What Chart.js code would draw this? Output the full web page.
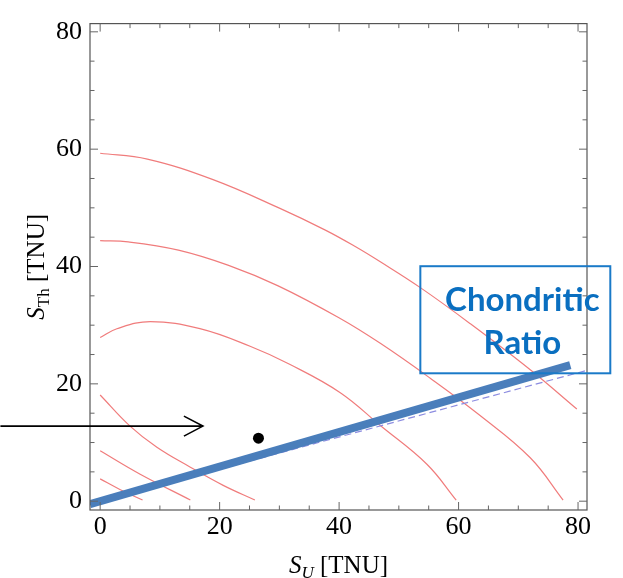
<!DOCTYPE html>
<html>
<head>
<meta charset="utf-8">
<script src="https://cdn.jsdelivr.net/npm/chart.js@4/dist/chart.umd.min.js"></script>
<style>
  html, body { margin: 0; padding: 0; background: #fff; }
  #wrap { width: 623px; height: 578px; }
</style>
</head>
<body>
<div id="wrap"><canvas id="chart"></canvas></div>
<script>
// axis ranges and tick labels
const uRange = [-1.7, 81.5];
const thRange = [-1.5, 81.4];
const uTicks = [0, 20, 40, 60, 80];
const thTicks = [0, 20, 40, 60, 80];

// iso-signal contours (S_U, S_Th)
const curve1U = [0, 7.9, 18.9, 30.1, 37.7, 42.7, 46.9, 53.6, 61.9, 72, 79.8];
const curve1Th = [59.3, 58.3, 54.8, 49.9, 46.2, 43.4, 40.8, 36.4, 30.3, 22.4, 15.7];
const curve2U = [0, 4.7, 13.1, 21.5, 29.8, 39.9, 46.9, 55.2, 63.6, 72, 77.5];
const curve2Th = [44.4, 44.2, 42.8, 40.2, 36.7, 31.3, 26.9, 21, 14.6, 7.4, 0.2];
const curve3U = [0, 2.8, 8.4, 16.7, 25.1, 31.8, 40.2, 46.9, 54.7, 59.6];
const curve3Th = [27.9, 29.4, 30.6, 29.4, 26.4, 23.3, 18.5, 12.9, 6.3, 0.2];
const curve4U = [0, 5, 9.5, 15.1, 20.6, 25.9];
const curve4Th = [18.1, 12.8, 9.2, 5.8, 2.7, 0.2];
const curve5U = [0, 6.7, 15.1];
const curve5Th = [8.6, 4.6, 0.2];
const curve6U = [0, 3.3, 7.1];
const curve6Th = [3.8, 2.0, 0.2];

// chondritic ratio lines
const chondriticU = [-1.7, 78.7];
const chondriticTh = [-0.5, 23.2];
const dashedU = [0, 81.5];
const dashedTh = [0, 22.3];

// measured point
const pointU = [26.5];
const pointTh = [10.75];

// arrow and label box (data units)
const arrowU = [-16.7, 17.2];
const arrowTh = [12.8, 12.8];
const boxU = [53.6, 85.4];
const boxTh = [40.05, 21.8];
const boxLines = ['Chondritic', 'Ratio'];

const toPoints = (us, ths) => us.map((u, i) => ({ x: u, y: ths[i] }));

const contour = (us, ths) => ({
  data: toPoints(us, ths),
  showLine: true,
  borderColor: '#f07c7c',
  borderWidth: 1.2,
  pointRadius: 0,
  tension: 0.4,
  clip: 0,
  order: 5,
});

const serif = '"Liberation Serif", "DejaVu Serif", serif';

// draws a list of text runs centred on (x, y), optionally rotated
function drawRich(ctx, parts, x, y, angle) {
  ctx.save();
  ctx.translate(x, y);
  ctx.rotate(angle || 0);
  ctx.textBaseline = 'alphabetic';
  ctx.textAlign = 'left';
  let total = 0;
  parts.forEach((p) => {
    ctx.font = p.font;
    total += ctx.measureText(p.text).width;
  });
  let cx = -total / 2;
  parts.forEach((p) => {
    ctx.font = p.font;
    ctx.fillStyle = '#000';
    ctx.fillText(p.text, cx, p.dy || 0);
    cx += ctx.measureText(p.text).width;
  });
  ctx.restore();
}

const framePlugin = {
  id: 'frame',
  afterDatasetsDraw(chart) {
    const { ctx, chartArea: { left, right, top, bottom }, scales: { x, y } } = chart;
    ctx.save();

    // frame
    ctx.strokeStyle = '#555';
    ctx.lineWidth = 1.2;
    ctx.strokeRect(left, top, right - left, bottom - top);

    // inward ticks on all sides
    ctx.strokeStyle = '#666';
    ctx.lineWidth = 1;
    for (let v = 0; v <= 80; v += 5) {
      const len = v % 20 === 0 ? 8 : 4.5;
      const px = x.getPixelForValue(v);
      const py = y.getPixelForValue(v);
      ctx.beginPath();
      ctx.moveTo(px, bottom); ctx.lineTo(px, bottom - len);
      ctx.moveTo(px, top); ctx.lineTo(px, top + len);
      ctx.moveTo(left, py); ctx.lineTo(left + len, py);
      ctx.moveTo(right, py); ctx.lineTo(right - len, py);
      ctx.stroke();
    }

    // arrow
    const ax0 = x.getPixelForValue(arrowU[0]);
    const ax1 = x.getPixelForValue(arrowU[1]);
    const ay = y.getPixelForValue(arrowTh[0]);
    ctx.strokeStyle = '#000';
    ctx.lineWidth = 1.6;
    ctx.beginPath();
    ctx.moveTo(ax0, ay); ctx.lineTo(ax1, ay);
    ctx.moveTo(ax1 - 19, ay - 10); ctx.lineTo(ax1, ay); ctx.lineTo(ax1 - 19, ay + 10);
    ctx.stroke();

    // Chondritic Ratio box
    const bx0 = x.getPixelForValue(boxU[0]);
    const bx1 = x.getPixelForValue(boxU[1]);
    const by0 = y.getPixelForValue(boxTh[0]);
    const by1 = y.getPixelForValue(boxTh[1]);
    ctx.strokeStyle = '#1a7ac8';
    ctx.lineWidth = 2;
    ctx.strokeRect(bx0, by0, bx1 - bx0, by1 - by0);
    ctx.fillStyle = '#0a6fc0';
    ctx.font = 'bold 33px Lato, "Open Sans", sans-serif';
    ctx.textAlign = 'center';
    ctx.textBaseline = 'alphabetic';
    const tx = bx0 + 102;
    ctx.fillText(boxLines[0], tx, by0 + 45, 162);
    ctx.fillText(boxLines[1], tx, by0 + 88, 82);

    // axis titles
    const big = `25px ${serif}`;
    const bigIt = `italic 25px ${serif}`;
    const sub = `17px ${serif}`;
    const subIt = `italic 17px ${serif}`;
    drawRich(ctx, [
      { text: 'S', font: bigIt },
      { text: 'U', font: subIt, dy: 5 },
      { text: ' [TNU]', font: big },
    ], (left + right) / 2, 573, 0);
    drawRich(ctx, [
      { text: 'S', font: bigIt },
      { text: 'Th', font: sub, dy: 5 },
      { text: ' [TNU]', font: big },
    ], 44, (top + bottom) / 2, -Math.PI / 2);

    ctx.restore();
  },
};

const tickFont = { family: serif, size: 26 };

new Chart(document.getElementById('chart'), {
  type: 'scatter',
  data: {
    datasets: [
      {
        data: toPoints(pointU, pointTh),
        pointRadius: 5.5,
        pointBackgroundColor: '#000',
        pointBorderWidth: 0,
        order: 0,
      },
      {
        data: toPoints(chondriticU, chondriticTh),
        showLine: true,
        borderColor: '#4a7ebb',
        borderWidth: 8,
        borderCapStyle: 'butt',
        pointRadius: 0,
        clip: 0,
        order: 1,
      },
      {
        data: toPoints(dashedU, dashedTh),
        showLine: true,
        borderColor: '#8c8ce0',
        borderWidth: 1.2,
        borderDash: [7, 4],
        pointRadius: 0,
        clip: 0,
        order: 2,
      },
      contour(curve1U, curve1Th),
      contour(curve2U, curve2Th),
      contour(curve3U, curve3Th),
      contour(curve4U, curve4Th),
      contour(curve5U, curve5Th),
      contour(curve6U, curve6Th),
    ],
  },
  options: {
    responsive: true,
    maintainAspectRatio: false,
    animation: false,
    layout: { padding: { top: 13, right: 36, left: 0, bottom: 0 } },
    scales: {
      x: {
        type: 'linear',
        min: uRange[0],
        max: uRange[1],
        afterBuildTicks: (s) => { s.ticks = uTicks.map((v) => ({ value: v })); },
        afterFit: (s) => { s.height = 68; },
        grid: { display: false, drawTicks: false },
        border: { display: false },
        ticks: { font: tickFont, color: '#000', padding: 2, maxRotation: 0 },
      },
      y: {
        type: 'linear',
        min: thRange[0],
        max: thRange[1],
        afterBuildTicks: (s) => { s.ticks = thTicks.map((v) => ({ value: v })); },
        afterFit: (s) => { s.width = 90; },
        grid: { display: false, drawTicks: false },
        border: { display: false },
        ticks: { font: tickFont, color: '#000', padding: 8 },
      },
    },
    plugins: {
      legend: { display: false },
      tooltip: { enabled: false },
    },
  },
  plugins: [framePlugin],
});
</script>
</body>
</html>
